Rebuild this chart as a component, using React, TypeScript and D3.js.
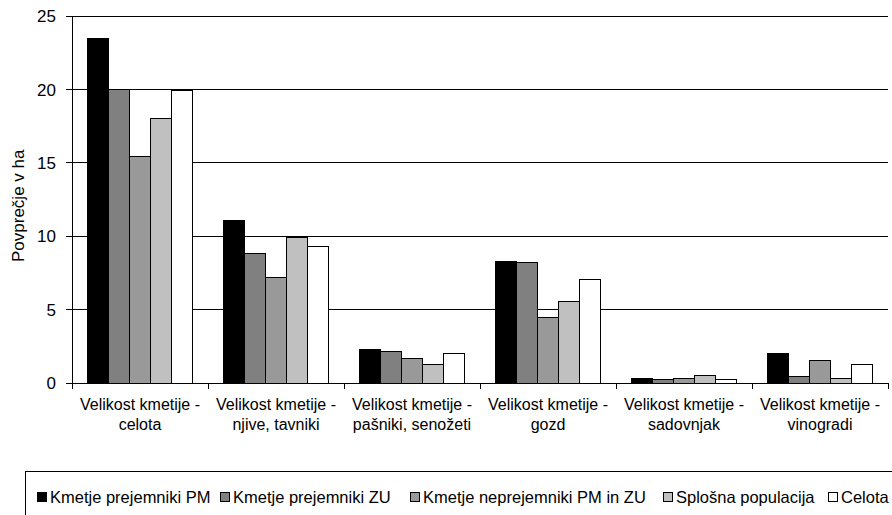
import React from "react";
import * as d3 from "d3";

const categories1 = ["Velikost kmetije -", "Velikost kmetije -", "Velikost kmetije -", "Velikost kmetije -", "Velikost kmetije -", "Velikost kmetije -"];
const categories2 = ["celota", "njive, tavniki", "pašniki, senožeti", "gozd", "sadovnjak", "vinogradi"];
const seriesNames = ["Kmetje prejemniki PM", "Kmetje prejemniki ZU", "Kmetje neprejemniki PM in ZU", "Splošna populacija", "Celota"];
const seriesColors = ["#000000", "#808080", "#999999", "#c0c0c0", "#ffffff"];
const sPM = [23.5, 11.1, 2.3, 8.3, 0.29, 1.98];
const sZU = [20.0, 8.8, 2.16, 8.2, 0.25, 0.41];
const sNe = [15.4, 7.2, 1.66, 4.45, 0.34, 1.52];
const sSp = [18.0, 9.9, 1.23, 5.55, 0.54, 0.29];
const sCe = [19.9, 9.3, 2.02, 7.08, 0.27, 1.25];
const yTicks = [0, 5, 10, 15, 20, 25];
const yTitle = "Povprečje v ha";

export default function App() {
  const W = 892, H = 515;
  const left = 72, right = 888, top = 16, bottom = 383;
  const series = [sPM, sZU, sNe, sSp, sCe];
  const x0 = d3.scaleBand<number>().domain(d3.range(categories2.length)).range([left, right]).paddingInner(0).paddingOuter(0);
  const inner = d3.scaleBand<number>().domain(d3.range(series.length)).range([0, x0.bandwidth()]).paddingInner(0).paddingOuter(0.75);
  const y = d3.scaleLinear().domain([0, 25]).range([bottom, top]);
  const font = "'Liberation Sans', Arial, sans-serif";
  const legendX = [37, 220, 410, 663, 828];
  return (
    <svg width={W} height={H} style={{ position: "absolute", left: 0, top: 0, background: "#fff" }} fontFamily={font}>
      {yTicks.map((t) => (
        <g key={t}>
          {t > 0 && <line x1={left} x2={right} y1={y(t)} y2={y(t)} stroke="#000" strokeWidth={1} shapeRendering="crispEdges" />}
          <line x1={left - 6} x2={left} y1={y(t)} y2={y(t)} stroke="#000" shapeRendering="crispEdges" />
          <text x={56} y={y(t)} dy="0.36em" textAnchor="end" fontSize={17}>{t}</text>
        </g>
      ))}
      {series.map((vals, si) =>
        vals.map((v, ci) => (
          <rect key={`${si}-${ci}`} x={(x0(ci) as number) + (inner(si) as number)} y={y(v)} width={inner.bandwidth()} height={y(0) - y(v)}
            fill={seriesColors[si]} stroke="#000" strokeWidth={1} shapeRendering="crispEdges" />
        ))
      )}
      <line x1={left} x2={left} y1={top} y2={bottom} stroke="#000" shapeRendering="crispEdges" />
      <line x1={left} x2={right} y1={bottom} y2={bottom} stroke="#000" shapeRendering="crispEdges" />
      {d3.range(categories2.length + 1).map((i) => {
        const xx = left + i * x0.step();
        return <line key={i} x1={xx} x2={xx} y1={bottom} y2={bottom + 6} stroke="#000" shapeRendering="crispEdges" />;
      })}
      {categories2.map((c, i) => {
        const cx = (x0(i) as number) + x0.bandwidth() / 2;
        return (
          <text key={i} x={cx} textAnchor="middle" fontSize={16}>
            <tspan x={cx} y={410}>{categories1[i]}</tspan>
            <tspan x={cx} y={430}>{c}</tspan>
          </text>
        );
      })}
      <text transform={`translate(24,262) rotate(-90)`} textAnchor="start" fontSize={17}>{yTitle}</text>
      <rect x={25.5} y={471.5} width={900} height={60} fill="none" stroke="#000" strokeWidth={1} />
      {seriesNames.map((n, i) => (
        <g key={n}>
          <rect x={legendX[i] + 0.5} y={492.5} width={9} height={9} fill={seriesColors[i]} stroke="#000" />
          <text x={legendX[i] + 13} y={497} dy="0.36em" fontSize={16.5}>{n}</text>
        </g>
      ))}
    </svg>
  );
}
